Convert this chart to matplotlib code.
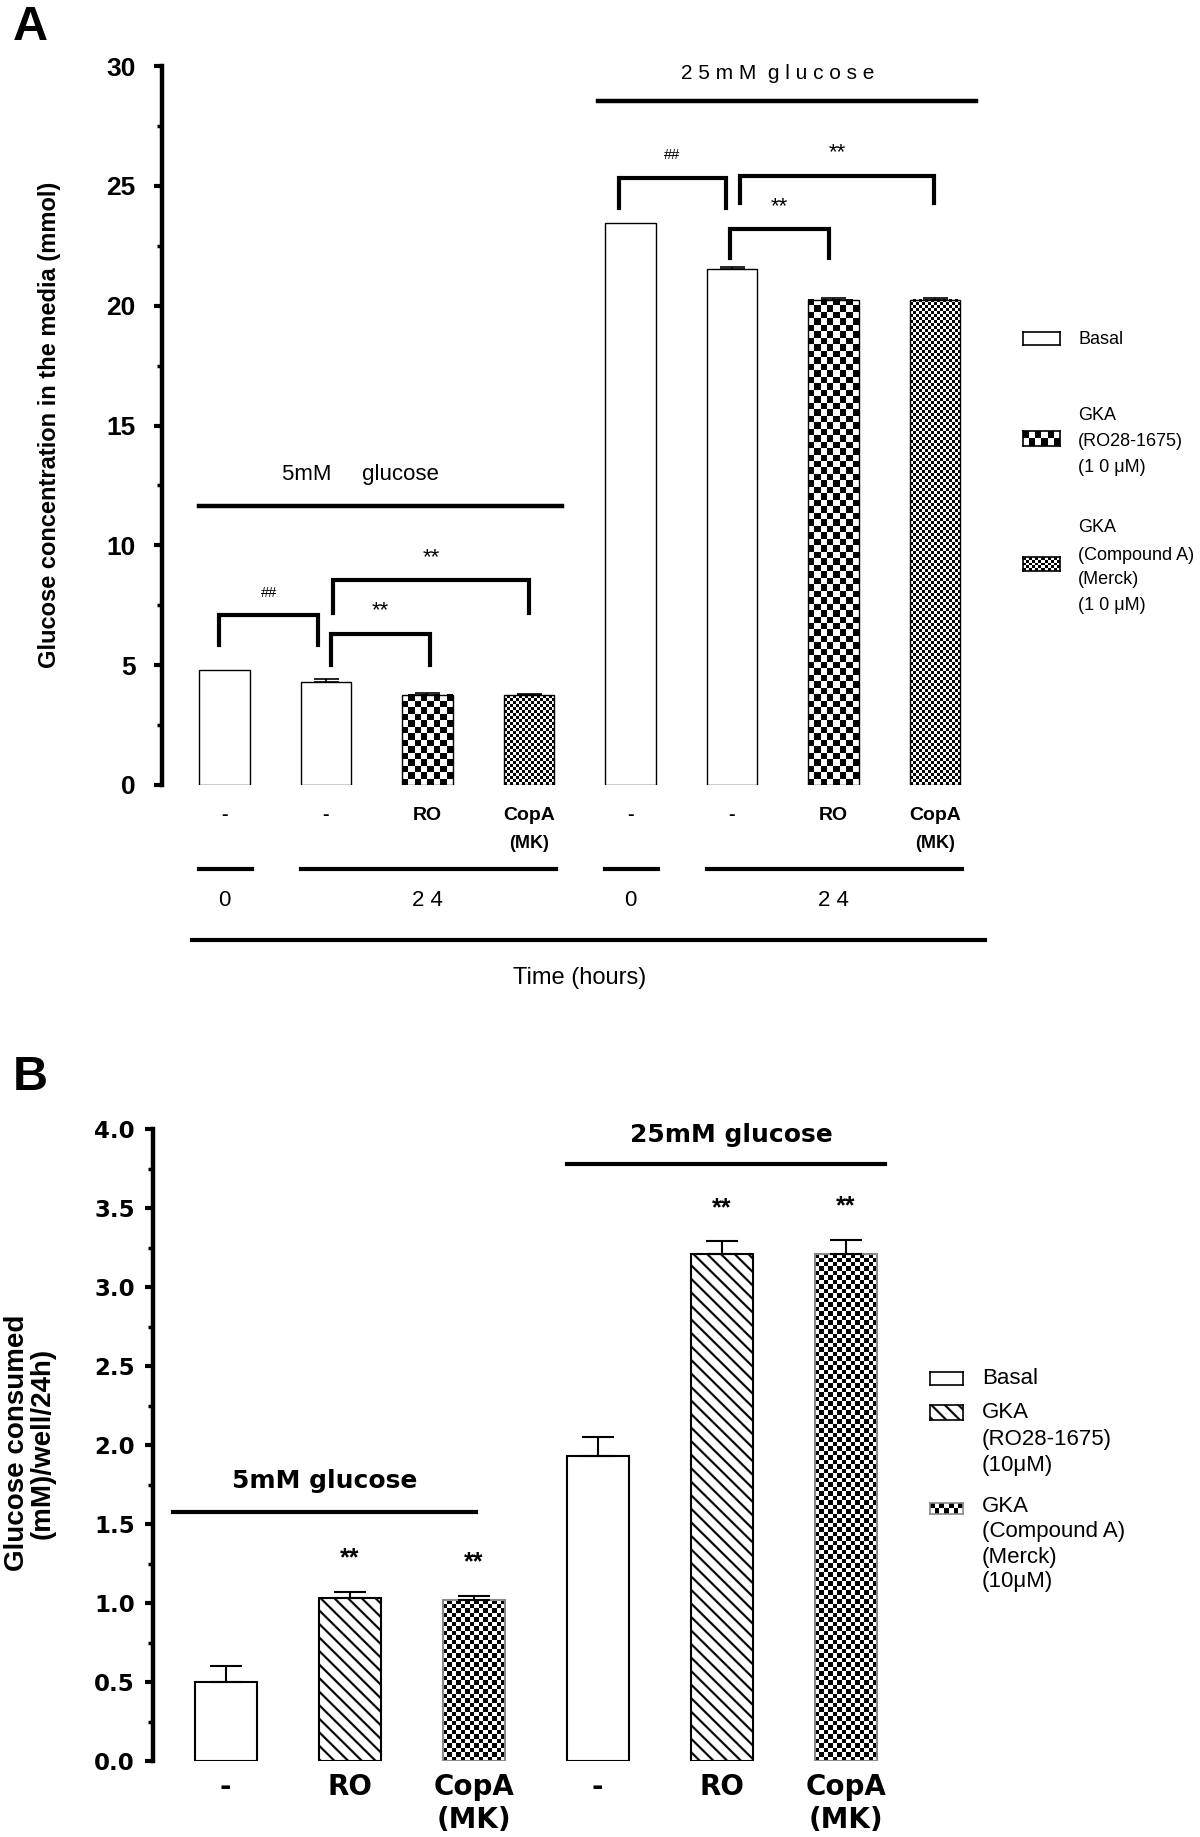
import numpy as np
import matplotlib
matplotlib.use("Agg")
import matplotlib.pyplot as plt
from matplotlib.ticker import MultipleLocator

plt.rcParams["font.family"] = ["Liberation Sans", "DejaVu Sans"]

# ---- panel A: glucose left in the media (mmol) ----
a_top = ["-", "-", "RO", "CopA", "-", "-", "RO", "CopA"]
a_bottom = ["", "", "", "(MK)", "", "", "", "(MK)"]
a_means = [4.78, 4.30, 3.76, 3.75, 23.44, 21.52, 20.24, 20.24]
a_sem = [0.0, 0.12, 0.06, 0.04, 0.0, 0.11, 0.07, 0.09]
a_fill = ["basal", "basal", "ro", "mk", "basal", "basal", "ro", "mk"]
a_hours = ["0", "2 4", "0", "2 4"]
a_hour_groups = [(0, 0), (1, 3), (4, 4), (5, 7)]
# (left x, right x, bracket top, leg end, label)
a_brackets = [
    (-0.05, 0.92, 7.08, 5.83, "##"),
    (1.05, 2.03, 6.32, 5.00, "**"),
    (1.07, 3.00, 8.54, 7.19, "**"),
    (3.89, 4.94, 25.32, 24.07, "##"),
    (4.98, 5.96, 23.19, 21.98, "**"),
    (5.08, 6.99, 25.43, 24.28, "**"),
]

# ---- panel B: glucose consumed (mM)/well/24h ----
b_top = ["-", "RO", "CopA", "-", "RO", "CopA"]
b_bottom = ["", "", "(MK)", "", "", "(MK)"]
b_means = [0.50, 1.03, 1.02, 1.93, 3.21, 3.21]
b_sem = [0.10, 0.04, 0.025, 0.12, 0.08, 0.09]
b_fill = ["basal", "ro", "mk", "basal", "ro", "mk"]
b_stars = ["", "**", "**", "", "**", "**"]

W, H = 1200, 1837
fig = plt.figure(figsize=(W / 100, H / 100), dpi=100)


def rect(x0, y0, x1, y1):
    # pixel box with top-left origin -> figure fraction rectangle
    return [x0 / W, 1 - y1 / H, (x1 - x0) / W, (y1 - y0) / H]


def ftext(x, y, s, **kw):
    kw.setdefault("va", "center")
    return fig.text(x / W, 1 - y / H, s, **kw)


def checker_tile(w_px, h_px, cell):
    nx = max(1, int(round(w_px / cell)))
    ny = max(1, int(round(h_px / cell)))
    return np.indices((ny, nx)).sum(axis=0) % 2


def stripe_tile(w_px, h_px, period=13.5, thick=2.8, ss=4):
    # "\" stripes, supersampled so they come out smooth
    rows, cols = np.indices((int(h_px * ss), int(w_px * ss)))
    return ((cols - rows) % int(period * ss) >= thick * ss).astype(float)


def texture(ax, bar, kind, cell=4):
    bb = bar.get_window_extent()
    x0, y0 = bar.get_x(), bar.get_y()
    ext = (x0, x0 + bar.get_width(), y0, y0 + bar.get_height())
    if kind == "stripes":
        ax.imshow(stripe_tile(bb.width, bb.height), cmap="gray", vmin=0, vmax=1,
                  origin="upper", interpolation="antialiased", aspect="auto",
                  zorder=1, extent=ext)
    else:
        ax.imshow(checker_tile(bb.width, bb.height, cell), cmap="gray", vmin=0,
                  vmax=1, origin="lower", interpolation="nearest",
                  aspect="auto", zorder=1, extent=ext)


def swatch(box, kind, cell=4, edge="black"):
    sax = fig.add_axes(rect(*box))
    sax.set_xticks([])
    sax.set_yticks([])
    for sp in sax.spines.values():
        sp.set_linewidth(1.2)
        sp.set_edgecolor(edge)
    w, h = box[2] - box[0], box[3] - box[1]
    if kind == "checker":
        sax.imshow(checker_tile(w, h, cell), cmap="gray", vmin=0, vmax=1,
                   interpolation="nearest", aspect="auto", extent=(0, 1, 0, 1))
    elif kind == "stripes":
        sax.imshow(stripe_tile(w, h), cmap="gray", vmin=0, vmax=1,
                   interpolation="antialiased", aspect="auto",
                   extent=(0, 1, 0, 1))
    sax.set_xlim(0, 1)
    sax.set_ylim(0, 1)


def style_axis(ax, ymax):
    for side in ["top", "right", "bottom"]:
        ax.spines[side].set_visible(False)
    ax.spines["left"].set_linewidth(3.2)
    ax.spines["left"].set_bounds(0, ymax)
    ax.tick_params(axis="x", bottom=False, labelbottom=False)


# ================= panel A =================
xa = np.arange(len(a_means))
axA = fig.add_axes(rect(162, 66, 224.4 + 7.5 * 101.5, 785))
axA.set_xlim(-0.615, 7.5)
axA.set_ylim(0, 30)
style_axis(axA, 30)
axA.set_yticks(range(0, 31, 5), labels=[str(v) for v in range(0, 31, 5)],
               fontweight="bold", fontsize=19)
axA.yaxis.set_minor_locator(MultipleLocator(2.5))
axA.tick_params(axis="y", which="major", length=6, width=3, pad=13)
axA.tick_params(axis="y", which="minor", length=3.5, width=2.5)

barsA = axA.bar(xa, a_means, width=0.5, edgecolor="black", linewidth=1,
                facecolor="white", zorder=2)
for bar, kind in zip(barsA, a_fill):
    if kind != "basal":
        bar.set_facecolor("none")
        texture(axA, bar, "checker", 6.5 if kind == "ro" else 3)
for i, (m, e) in enumerate(zip(a_means, a_sem)):
    if e > 0:
        axA.errorbar(xa[i], m, yerr=[[0], [e]], fmt="none", ecolor="black",
                     elinewidth=1.2, capsize=9, capthick=1.2, zorder=3)

for x0, x1, top, bot, lab in a_brackets:
    axA.plot([x0, x0, x1, x1], [bot, top, top, bot], color="black", lw=3,
             solid_joinstyle="miter", clip_on=False)
    axA.text((x0 + x1) / 2, top + 0.95, lab, ha="center", va="center",
             fontsize=10.5 if lab == "##" else 16)

axA.plot([-0.25, 3.33], [11.65, 11.65], color="black", lw=3.2, clip_on=False)
axA.text(1.345, 12.95, "5mM     glucose", ha="center", va="center", fontsize=16)
axA.plot([3.68, 7.4], [28.52, 28.52], color="black", lw=3.2, clip_on=False)
axA.text(5.455, 29.7, "2 5 m M  g l u c o s e", ha="center", va="center",
         fontsize=15)

for i in xa:
    axA.text(i, -1.28, a_top[i], ha="center", va="center", fontsize=14,
             fontweight="bold")
    if a_bottom[i]:
        axA.text(i, -2.45, a_bottom[i], ha="center", va="center",
                 fontsize=13, fontweight="bold")
for (i0, i1), lab in zip(a_hour_groups, a_hours):
    axA.plot([i0 - 0.25, i1 + 0.27], [-3.49, -3.49], color="black", lw=3,
             clip_on=False)
    axA.text((i0 + i1) / 2, -4.81, lab, ha="center", va="center", fontsize=16)
axA.plot([-0.32, 7.49], [-6.47, -6.47], color="black", lw=3, clip_on=False)
axA.text(3.5, -8.04, "Time (hours)", ha="center", va="center", fontsize=17)
axA.set_xlim(-0.615, 7.5)
axA.set_ylim(0, 30)

ftext(50, 425, "Glucose concentration in the media (mmol)", rotation=90,
      ha="center", fontsize=17, fontweight="bold")
ftext(13, 28, "A", ha="left", fontsize=35, fontweight="bold")

swatch((1023, 332, 1060, 345), "basal")
swatch((1023, 431, 1060, 446), "checker", cell=6.5)
swatch((1023, 557, 1060, 571), "checker", cell=3)
for y, s in [(339, "Basal"), (415, "GKA"), (442, "(RO28-1675)"),
             (467, "(1 0 μM)"), (528, "GKA"), (555, "(Compound A)"),
             (580, "(Merck)"), (606, "(1 0 μM)")]:
    ftext(1078, y, s, fontsize=13)

# ================= panel B =================
xb = np.arange(len(b_means))
axB = fig.add_axes(rect(153, 1129, 225.6 + 5.5 * 124, 1761))
axB.set_xlim(-0.585, 5.5)
axB.set_ylim(0, 4)
style_axis(axB, 4)
yt = np.arange(0, 4.01, 0.5)
axB.set_yticks(yt, labels=[f"{v:.1f}" for v in yt], fontweight="bold",
               fontsize=16.5, family="DejaVu Sans")
axB.yaxis.set_minor_locator(MultipleLocator(0.25))
axB.tick_params(axis="y", which="major", length=6, width=3, pad=7)
axB.tick_params(axis="y", which="minor", length=3.5, width=2.5)

barsB = axB.bar(xb, b_means, width=0.5, edgecolor="black", linewidth=1.5,
                facecolor="white", zorder=2)
for bar, kind in zip(barsB, b_fill):
    if kind == "ro":
        bar.set_facecolor("none")
        texture(axB, bar, "stripes")
    elif kind == "mk":
        bar.set_facecolor("none")
        bar.set_edgecolor("#8a8a8a")
        texture(axB, bar, "checker", 4.5)
for i, (m, e) in enumerate(zip(b_means, b_sem)):
    axB.errorbar(xb[i], m, yerr=[[0], [e]], fmt="none", ecolor="black",
                 elinewidth=1.5, capsize=11.5, capthick=1.5, zorder=3)
    if b_stars[i]:
        axB.text(xb[i], m + e + 0.21, b_stars[i], ha="center", va="center",
                 fontsize=18, fontweight="bold")

axB.plot([-0.42, 2.02], [1.576, 1.576], color="black", lw=3, clip_on=False)
axB.text(0.8, 1.77, "5mM glucose", ha="center", va="center", fontsize=18,
         fontweight="bold", family="DejaVu Sans")
axB.plot([2.75, 5.32], [3.78, 3.78], color="black", lw=3, clip_on=False)
axB.text(4.08, 3.96, "25mM glucose", ha="center", va="center", fontsize=18,
         fontweight="bold", family="DejaVu Sans")
for i in xb:
    axB.text(i, -0.165, b_top[i], ha="center", va="center", fontsize=20,
             fontweight="bold", family="DejaVu Sans")
    if b_bottom[i]:
        axB.text(i, -0.375, b_bottom[i], ha="center", va="center",
                 fontsize=20, fontweight="bold", family="DejaVu Sans")
axB.set_xlim(-0.585, 5.5)
axB.set_ylim(0, 4)

ftext(30, 1443, "Glucose consumed\n(mM)/well/24h)", rotation=90, ha="center",
      fontsize=20, fontweight="bold", linespacing=1.0, multialignment="center")
ftext(13, 1078, "B", ha="left", fontsize=35, fontweight="bold")

swatch((930, 1372, 963, 1385), "basal")
swatch((930, 1405, 963, 1420), "stripes")
swatch((930, 1503, 963, 1514), "checker", cell=5, edge="#8a8a8a")
for y, s in [(1378, "Basal"), (1413, "GKA"), (1440, "(RO28-1675)"),
             (1466, "(10μM)"), (1507, "GKA"), (1532, "(Compound A)"),
             (1557, "(Merck)"), (1582, "(10μM)")]:
    ftext(982, y, s, fontsize=16)

fig.savefig("out.png", dpi=100)
